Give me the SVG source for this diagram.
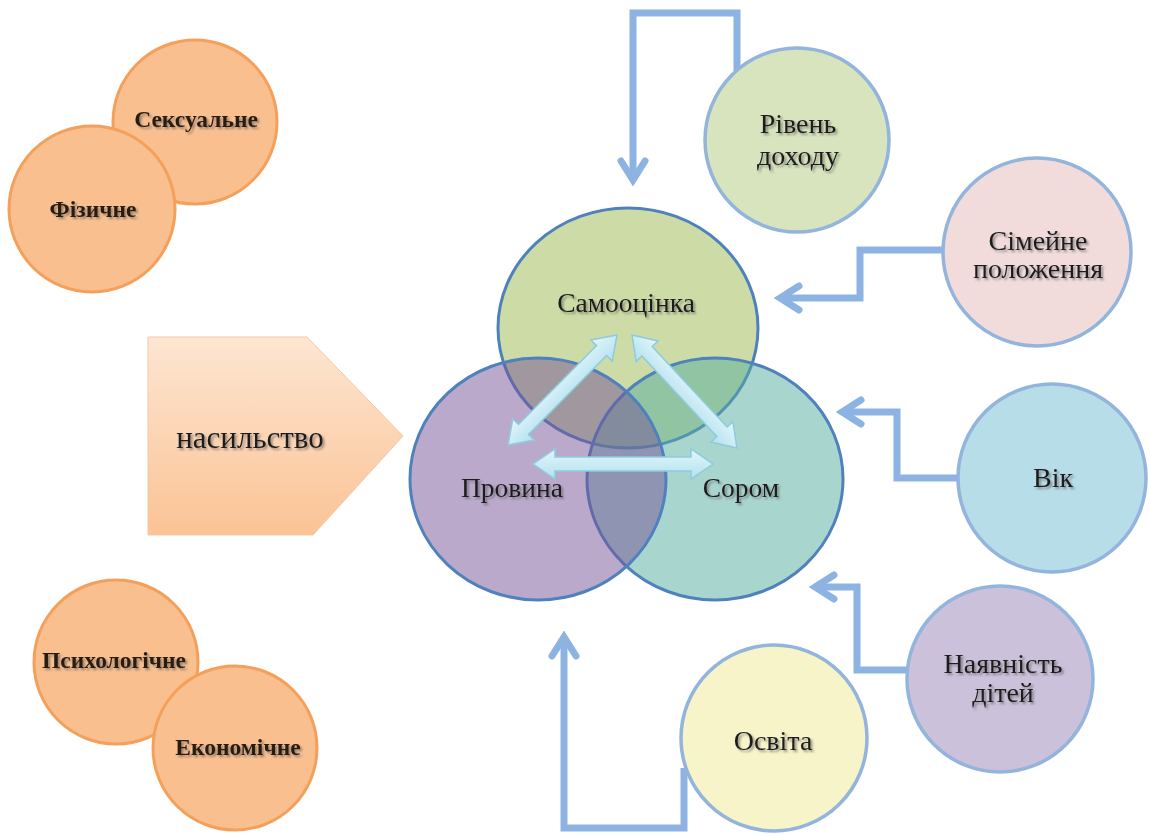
<svg xmlns="http://www.w3.org/2000/svg" width="1149" height="834" viewBox="0 0 1149 834">
<defs>
  <linearGradient id="pentGrad" x1="0" y1="0" x2="0" y2="1">
    <stop offset="0" stop-color="#fde6d2"/>
    <stop offset="1" stop-color="#fbc395"/>
  </linearGradient>
  <linearGradient id="dblGrad" x1="0" y1="0" x2="0" y2="1">
    <stop offset="0" stop-color="#e4f6fb"/>
    <stop offset="1" stop-color="#b1e1ee"/>
  </linearGradient>
  <filter id="shadow" x="-10%" y="-20%" width="130%" height="160%">
    <feDropShadow dx="2" dy="2" stdDeviation="1" flood-color="#555" flood-opacity="0.6"/>
  </filter>
  <marker id="chev" markerUnits="userSpaceOnUse" viewBox="-26 -18 32 36" markerWidth="32" markerHeight="36" refX="0" refY="0" orient="auto">
    <path d="M-19,-12 L0,0 L-19,12" fill="none" stroke="#8db3e2" stroke-width="7" stroke-linecap="round" stroke-linejoin="miter"/>
  </marker>
</defs>
<style>
  .lbl { font-family: "Liberation Serif", "Times New Roman", serif; font-size: 28px; fill: #1e1e1e; text-anchor: middle; filter: url(#shadow); }
  .vlbl { font-size: 27.5px; }
  .olbl { font-family: "Liberation Serif", "Times New Roman", serif; font-size: 23.5px; font-weight: bold; fill: #2a1a10; text-anchor: middle; filter: url(#shadow); }
  .orange { fill: #f9bf8f; stroke: #f4a05a; stroke-width: 3; }
  .factor { stroke: #93b4dc; stroke-width: 3.5; }
  .venn { stroke: #4f81bd; stroke-width: 3; fill-opacity: 0.5; }
  .conn { fill: none; stroke: #8db3e2; stroke-width: 7; stroke-linejoin: miter; marker-end: url(#chev); }
  .dbl { fill: url(#dblGrad); stroke: #8ecbdd; stroke-width: 1.5; }
</style>
<rect width="1149" height="834" fill="#ffffff"/>

<!-- violence types -->
<g id="node-seksualne">
  <circle class="orange" cx="195" cy="122" r="82"/>
  <text class="olbl" x="196" y="127">Сексуальне</text>
</g>
<g id="node-fizychne">
  <circle class="orange" cx="92" cy="209" r="83"/>
  <text class="olbl" x="93" y="217">Фізичне</text>
</g>
<g id="node-psykholohichne">
  <circle class="orange" cx="116" cy="662" r="82"/>
  <text class="olbl" x="114" y="668">Психологічне</text>
</g>
<g id="node-ekonomichne">
  <circle class="orange" cx="235" cy="748" r="82"/>
  <text class="olbl" x="238" y="755">Економічне</text>
</g>

<g id="node-nasylstvo">
  <polygon points="148,337 307,337 403,436 313,535 148,535" fill="url(#pentGrad)" stroke="#f6c7a0" stroke-width="1"/>
  <text class="lbl" x="250" y="448" style="font-size:31px">насильство</text>
</g>

<!-- Venn -->
<g id="node-samootsinka">
  <ellipse class="venn" cx="628" cy="328" rx="130" ry="120" fill="#9bb94d"/>
</g>
<g id="node-sorom">
  <ellipse class="venn" cx="715" cy="479" rx="128" ry="121" fill="#53ab9f"/>
</g>
<g id="node-provyna">
  <ellipse class="venn" cx="538" cy="479" rx="128" ry="121" fill="#755397"/>
</g>
<g id="venn-labels">
  <text class="lbl vlbl" x="626" y="312">Самооцінка</text>
  <text class="lbl vlbl" x="512" y="497">Провина</text>
  <text class="lbl vlbl" x="741" y="497">Сором</text>
</g>

<!-- double arrows inside Venn -->
<g id="venn-arrows">
  <polygon class="dbl" transform="translate(562.5,390) rotate(-45.3)" points="-77.5,0 -55.5,-15 -55.5,-7 55.5,-7 55.5,-15 77.5,0 55.5,15 55.5,7 -55.5,7 -55.5,15"/>
  <polygon class="dbl" transform="translate(684.5,391.5) rotate(47.1)" points="-77,0 -55,-15 -55,-7 55,-7 55,-15 77,0 55,15 55,7 -55,7 -55,15"/>
  <polygon class="dbl" transform="translate(623,464)" points="-90,0 -68,-15 -68,-7 68,-7 68,-15 90,0 68,15 68,7 -68,7 -68,15"/>
</g>

<!-- connectors -->
<g id="connectors">
  <path class="conn" d="M737,71 V13 H633 V180"/>
  <path class="conn" d="M943,250 H860 V298 H780"/>
  <path class="conn" d="M957,478 H897 V412 H842"/>
  <path class="conn" d="M907,670 H857 V587 H815"/>
  <path class="conn" d="M684,768 V828 H564 V637"/>
</g>

<!-- factors -->
<g id="node-riven-dokhodu">
  <circle class="factor" cx="797" cy="140" r="92" fill="#d7e4bd"/>
  <text class="lbl" x="798" y="133">Рівень</text>
  <text class="lbl" x="798" y="165">доходу</text>
</g>
<g id="node-simeine-polozhennia">
  <circle class="factor" cx="1037" cy="252" r="94" fill="#f2dcdb"/>
  <text class="lbl" x="1038" y="250">Сімейне</text>
  <text class="lbl" x="1038" y="278">положення</text>
</g>
<g id="node-vik">
  <circle class="factor" cx="1052" cy="478" r="94" fill="#b7dde8"/>
  <text class="lbl" x="1053" y="487">Вік</text>
</g>
<g id="node-naiavnist-ditei">
  <circle class="factor" cx="1000" cy="679" r="93" fill="#ccc1da"/>
  <text class="lbl" x="1003" y="673">Наявність</text>
  <text class="lbl" x="1003" y="702">дітей</text>
</g>
<g id="node-osvita">
  <circle class="factor" cx="774" cy="738" r="93" fill="#f6f4c8"/>
  <text class="lbl" x="773" y="750">Освіта</text>
</g>
</svg>
